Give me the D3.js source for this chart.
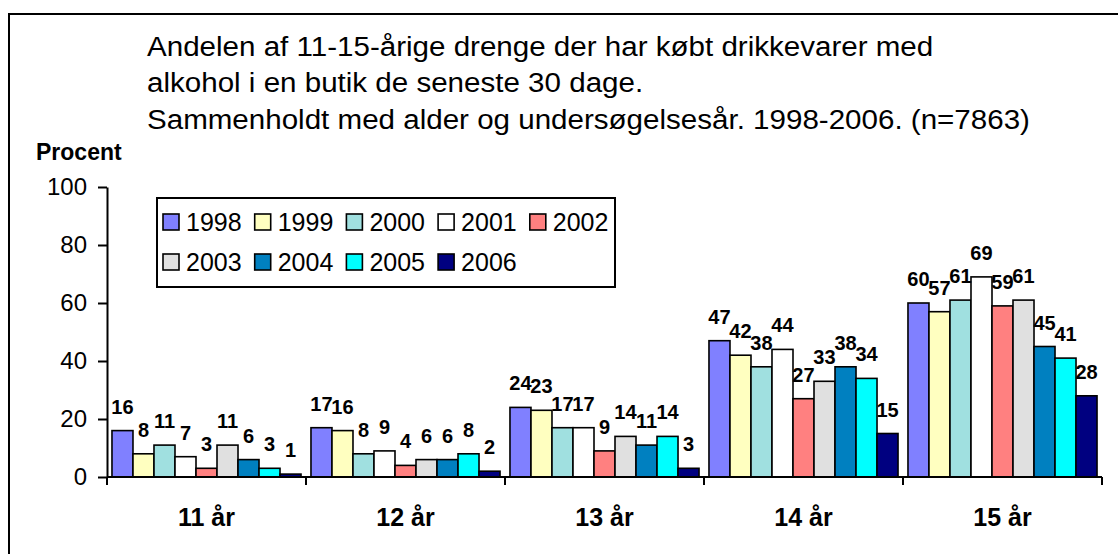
<!DOCTYPE html>
<html>
<head>
<meta charset="utf-8">
<script src="https://cdn.jsdelivr.net/npm/d3@7"></script>
<style>
  body { margin: 0; background: #fff; }
  svg { display: block; font-family: Arial, "Liberation Sans", Helvetica, sans-serif; }
</style>
</head>
<body>
<svg id="chart"></svg>
<script>
const ages = ["11 år", "12 år", "13 år", "14 år", "15 år"]
const years = ["1998", "1999", "2000", "2001", "2002", "2003", "2004", "2005", "2006"]
const yearColors = ["#8080FF", "#FFFFC0", "#A0E0E0", "#FFFFFF", "#FF8080", "#E0E0E0", "#0080C0", "#00FFFF", "#000080"]
// one row per age group, one value per survey year
const values = [
    [16, 8, 11, 7, 3, 11, 6, 3, 1],
    [17, 16, 8, 9, 4, 6, 6, 8, 2],
    [24, 23, 17, 17, 9, 14, 11, 14, 3],
    [47, 42, 38, 44, 27, 33, 38, 34, 15],
    [60, 57, 61, 69, 59, 61, 45, 41, 28]
]
const yTicks = [0, 20, 40, 60, 80, 100]
const titleLines = [
    "Andelen af 11-15-årige drenge der har købt drikkevarer med",
    "alkohol i en butik de seneste 30 dage.",
    "Sammenholdt med alder og undersøgelsesår. 1998-2006. (n=7863)"
]

const width = 1118, height = 554

const svg = d3.select("svg#chart")
    .attr("width", width)
    .attr("height", height)

// frame (only top and left edge are inside the picture)
svg.append("path")
    .attr("d", `M9,${height} L9,14 L${width},14`)
    .style("fill", "none")
    .style("stroke", "#000")
    .style("stroke-width", 2)

// title, slightly stretched sideways like the original
svg.append("g").selectAll("text")
    .data(titleLines)
    .join("text")
    .attr("x", 147)
    .attr("y", (d, i) => 56 + i * 36.5)
    .style("font-size", "27px")
    .attr("transform", "translate(147,0) scale(1.095,1) translate(-147,0)")
    .style("fill", "#000")
    .text(d => d)

svg.append("text")
    .attr("x", 36)
    .attr("y", 160)
    .style("font-size", "23px")
    .style("font-weight", "bold")
    .text("Procent")

const x0 = d3.scaleBand()
    .domain(ages)
    .range([107, 1102])
    .paddingInner(0.05)
    .paddingOuter(0.025)

const x1 = d3.scaleBand()
    .domain(years)
    .range([0, x0.bandwidth()])

const y = d3.scaleLinear()
    .domain([0, 100])
    .range([477, 187])

const color = d3.scaleOrdinal().domain(years).range(yearColors)

// y axis
const yAxis = svg.append("g")
    .attr("transform", "translate(107,0)")
    .call(d3.axisLeft(y).tickValues(yTicks).tickSize(9).tickPadding(11).tickSizeOuter(0))
yAxis.select(".domain").style("stroke", "#000").style("stroke-width", 2)
yAxis.selectAll(".tick line").style("stroke", "#000").style("stroke-width", 2)
yAxis.selectAll(".tick text")
    .style("font-family", "Arial, 'Liberation Sans', sans-serif")
    .style("font-size", "24px")
    .style("fill", "#000")

// bars
const groups = svg.append("g").attr("id", "bars")
    .selectAll("g")
    .data(values)
    .join("g")
    .attr("transform", (d, i) => `translate(${x0(ages[i])},0)`)

groups.selectAll("rect")
    .data(d => d.map((v, j) => ({ year: years[j], value: v })))
    .join("rect")
    .attr("x", d => x1(d.year))
    .attr("y", d => y(d.value))
    .attr("width", x1.bandwidth())
    .attr("height", d => y(0) - y(d.value))
    .style("fill", d => color(d.year))
    .style("stroke", "#000")
    .style("stroke-width", 1.6)

groups.selectAll("text")
    .data(d => d.map((v, j) => ({ year: years[j], value: v })))
    .join("text")
    .attr("x", d => x1(d.year) + x1.bandwidth() / 2)
    .attr("y", d => y(d.value) - 17)
    .attr("text-anchor", "middle")
    .style("font-size", "20px")
    .style("font-weight", "bold")
    .text(d => d.value)

// x axis: ticks on the category boundaries
const xb = svg.append("g").attr("id", "xAxis")
xb.append("line")
    .attr("x1", 107).attr("x2", 1102)
    .attr("y1", y(0)).attr("y2", y(0))
    .style("stroke", "#000")
    .style("stroke-width", 2)
const boundaries = ages.map(a => x0(a) - x0.step() * x0.paddingInner() / 2)
    .concat([x0(ages[ages.length - 1]) + x0.bandwidth() + x0.step() * x0.paddingInner() / 2])
xb.selectAll("line.tick")
    .data(boundaries)
    .join("line")
    .attr("class", "tick")
    .attr("x1", d => d).attr("x2", d => d)
    .attr("y1", y(0)).attr("y2", y(0) + 8)
    .style("stroke", "#000")
    .style("stroke-width", 2)
xb.selectAll("text")
    .data(ages)
    .join("text")
    .attr("x", d => x0(d) + x0.bandwidth() / 2)
    .attr("y", 526)
    .attr("text-anchor", "middle")
    .style("font-size", "25px")
    .style("font-weight", "bold")
    .text(d => d)

// legend
const legend = svg.append("g").attr("id", "legend")
legend.append("rect")
    .attr("x", 157).attr("y", 198)
    .attr("width", 458).attr("height", 89)
    .style("fill", "#fff")
    .style("stroke", "#000")
    .style("stroke-width", 2)
const items = legend.selectAll("g")
    .data(years)
    .join("g")
    .attr("transform", (d, i) => `translate(${163 + (i % 5) * 91.7},${i < 5 ? 222 : 262})`)
items.append("rect")
    .attr("x", 0).attr("y", -8)
    .attr("width", 16).attr("height", 16)
    .style("fill", d => color(d))
    .style("stroke", "#000")
    .style("stroke-width", 1.6)
items.append("text")
    .attr("x", 23)
    .attr("y", 9)
    .style("font-size", "25px")
    .text(d => d)
</script>
</body>
</html>
